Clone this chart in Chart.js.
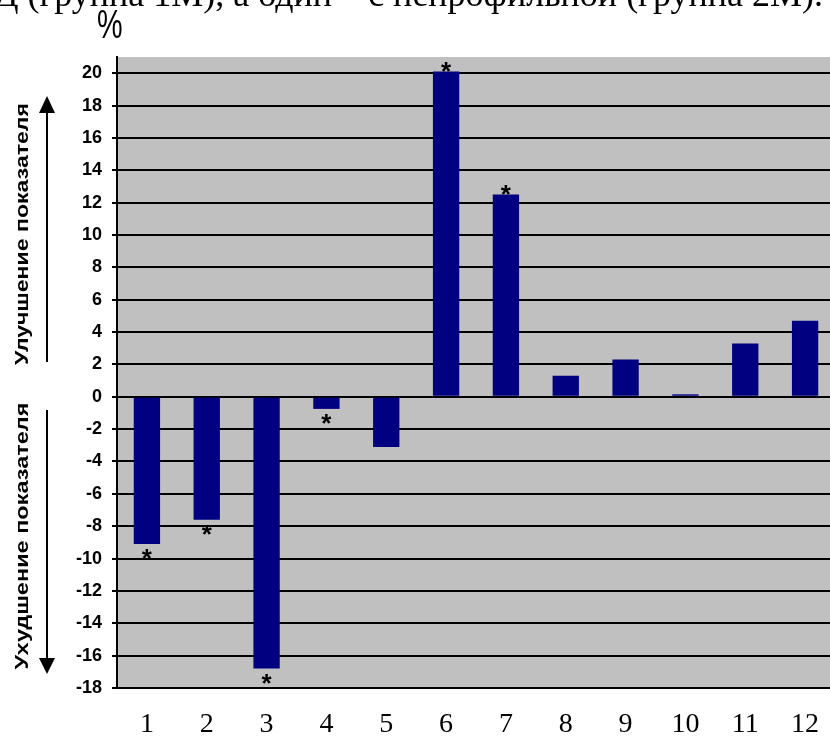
<!DOCTYPE html>
<html>
<head>
<meta charset="utf-8">
<script src="https://cdn.jsdelivr.net/npm/chart.js@4"></script>
<style>
  html, body { margin: 0; padding: 0; background: #fff; overflow: hidden; }
  #wrap { position: relative; width: 845px; height: 738px; }
</style>
</head>
<body>
<div id="wrap"><canvas id="chart"></canvas></div>
<script>
// данные
const categories = ["1", "2", "3", "4", "5", "6", "7", "8", "9", "10", "11", "12"];
const values = [-9.1, -7.6, -16.8, -0.75, -3.1, 20.1, 12.5, 1.3, 2.3, 0.15, 3.3, 4.7];
const significant = [1, 1, 1, 1, 0, 1, 1, 0, 0, 0, 0, 0];
const yTicks = [-18, -16, -14, -12, -10, -8, -6, -4, -2, 0, 2, 4, 6, 8, 10, 12, 14, 16, 18, 20];

const upLabel = "Улучшение показателя";
const downLabel = "Ухудшение показателя";
const topLine = "Д (группа 1М), а один – с непрофильной (группа 2М).";

// повернутая подпись, растянутая до нужной длины
function sideLabel(ctx, text, x, y, len) {
  ctx.save();
  ctx.translate(x, y);
  ctx.rotate(-Math.PI / 2);
  const w = ctx.measureText(text).width;
  ctx.scale(len / w, 1);
  ctx.fillText(text, 0, 0);
  ctx.restore();
}

// фон области графика, подписи и звездочки
const extras = {
  id: "extras",
  beforeDraw(chart) {
    const { ctx, chartArea: a } = chart;
    ctx.save();
    ctx.fillStyle = "#c0c0c0";
    ctx.fillRect(a.left, a.top, a.right - a.left, a.bottom - a.top);
    ctx.restore();
  },
  afterDraw(chart) {
    const { ctx } = chart;
    const meta = chart.getDatasetMeta(0);

    ctx.save();
    // звездочки
    ctx.fillStyle = "#000";
    ctx.font = "bold 26px Arial";
    ctx.textAlign = "center";
    ctx.textBaseline = "alphabetic";
    meta.data.forEach((bar, i) => {
      if (!significant[i]) return;
      const cy = values[i] >= 0 ? bar.y - 7 : bar.y + 8;
      ctx.fillText("*", bar.x, cy + 15);
    });

    // строка текста сверху
    ctx.font = "36px 'Liberation Serif'";
    ctx.textAlign = "left";
    ctx.fillText(topLine, -6, 6);

    // знак процента
    ctx.save();
    ctx.translate(97, 38);
    ctx.scale(0.72, 1);
    ctx.font = "40px Arial";
    ctx.fillText("%", 0, 0);
    ctx.restore();

    // вертикальные подписи
    ctx.font = "bold 19px Arial";
    ctx.textAlign = "center";
    ctx.textBaseline = "middle";
    sideLabel(ctx, upLabel, 23, 234, 262);
    sideLabel(ctx, downLabel, 23, 536, 267);

    // стрелки
    ctx.strokeStyle = "#000";
    ctx.lineWidth = 2;
    ctx.beginPath();
    ctx.moveTo(47, 362); ctx.lineTo(47, 110);
    ctx.moveTo(47, 410); ctx.lineTo(47, 660);
    ctx.stroke();
    ctx.beginPath();
    ctx.moveTo(47, 96); ctx.lineTo(39, 113); ctx.lineTo(55, 113); ctx.closePath();
    ctx.moveTo(47, 674); ctx.lineTo(39, 658); ctx.lineTo(55, 658); ctx.closePath();
    ctx.fill();
    ctx.restore();
  }
};

new Chart(document.getElementById("chart"), {
  type: "bar",
  data: {
    labels: categories,
    datasets: [{
      data: values,
      backgroundColor: "#000080",
      borderWidth: 0,
      categoryPercentage: 1,
      barPercentage: 0.44
    }]
  },
  options: {
    responsive: true,
    maintainAspectRatio: false,
    animation: false,
    layout: { padding: { top: 57, right: 10, left: 0, bottom: 0 } },
    plugins: { legend: { display: false }, tooltip: { enabled: false } },
    scales: {
      x: {
        grid: { display: false },
        border: { display: false },
        ticks: {
          color: "#000",
          font: { family: "'Liberation Serif'", size: 28 },
          padding: 12,
          maxRotation: 0
        },
        afterFit(s) { s.height = 50; }
      },
      y: {
        min: -18,
        max: 21,
        afterBuildTicks(s) { s.ticks = yTicks.map(v => ({ value: v })); },
        grid: { color: "#000", lineWidth: 2, tickLength: 5 },
        border: { color: "#000", width: 2 },
        ticks: {
          color: "#000",
          font: { family: "Arial", size: 18, weight: "bold" },
          padding: 10
        },
        afterFit(s) { s.width = 117; }
      }
    }
  },
  plugins: [extras]
});
</script>
</body>
</html>
